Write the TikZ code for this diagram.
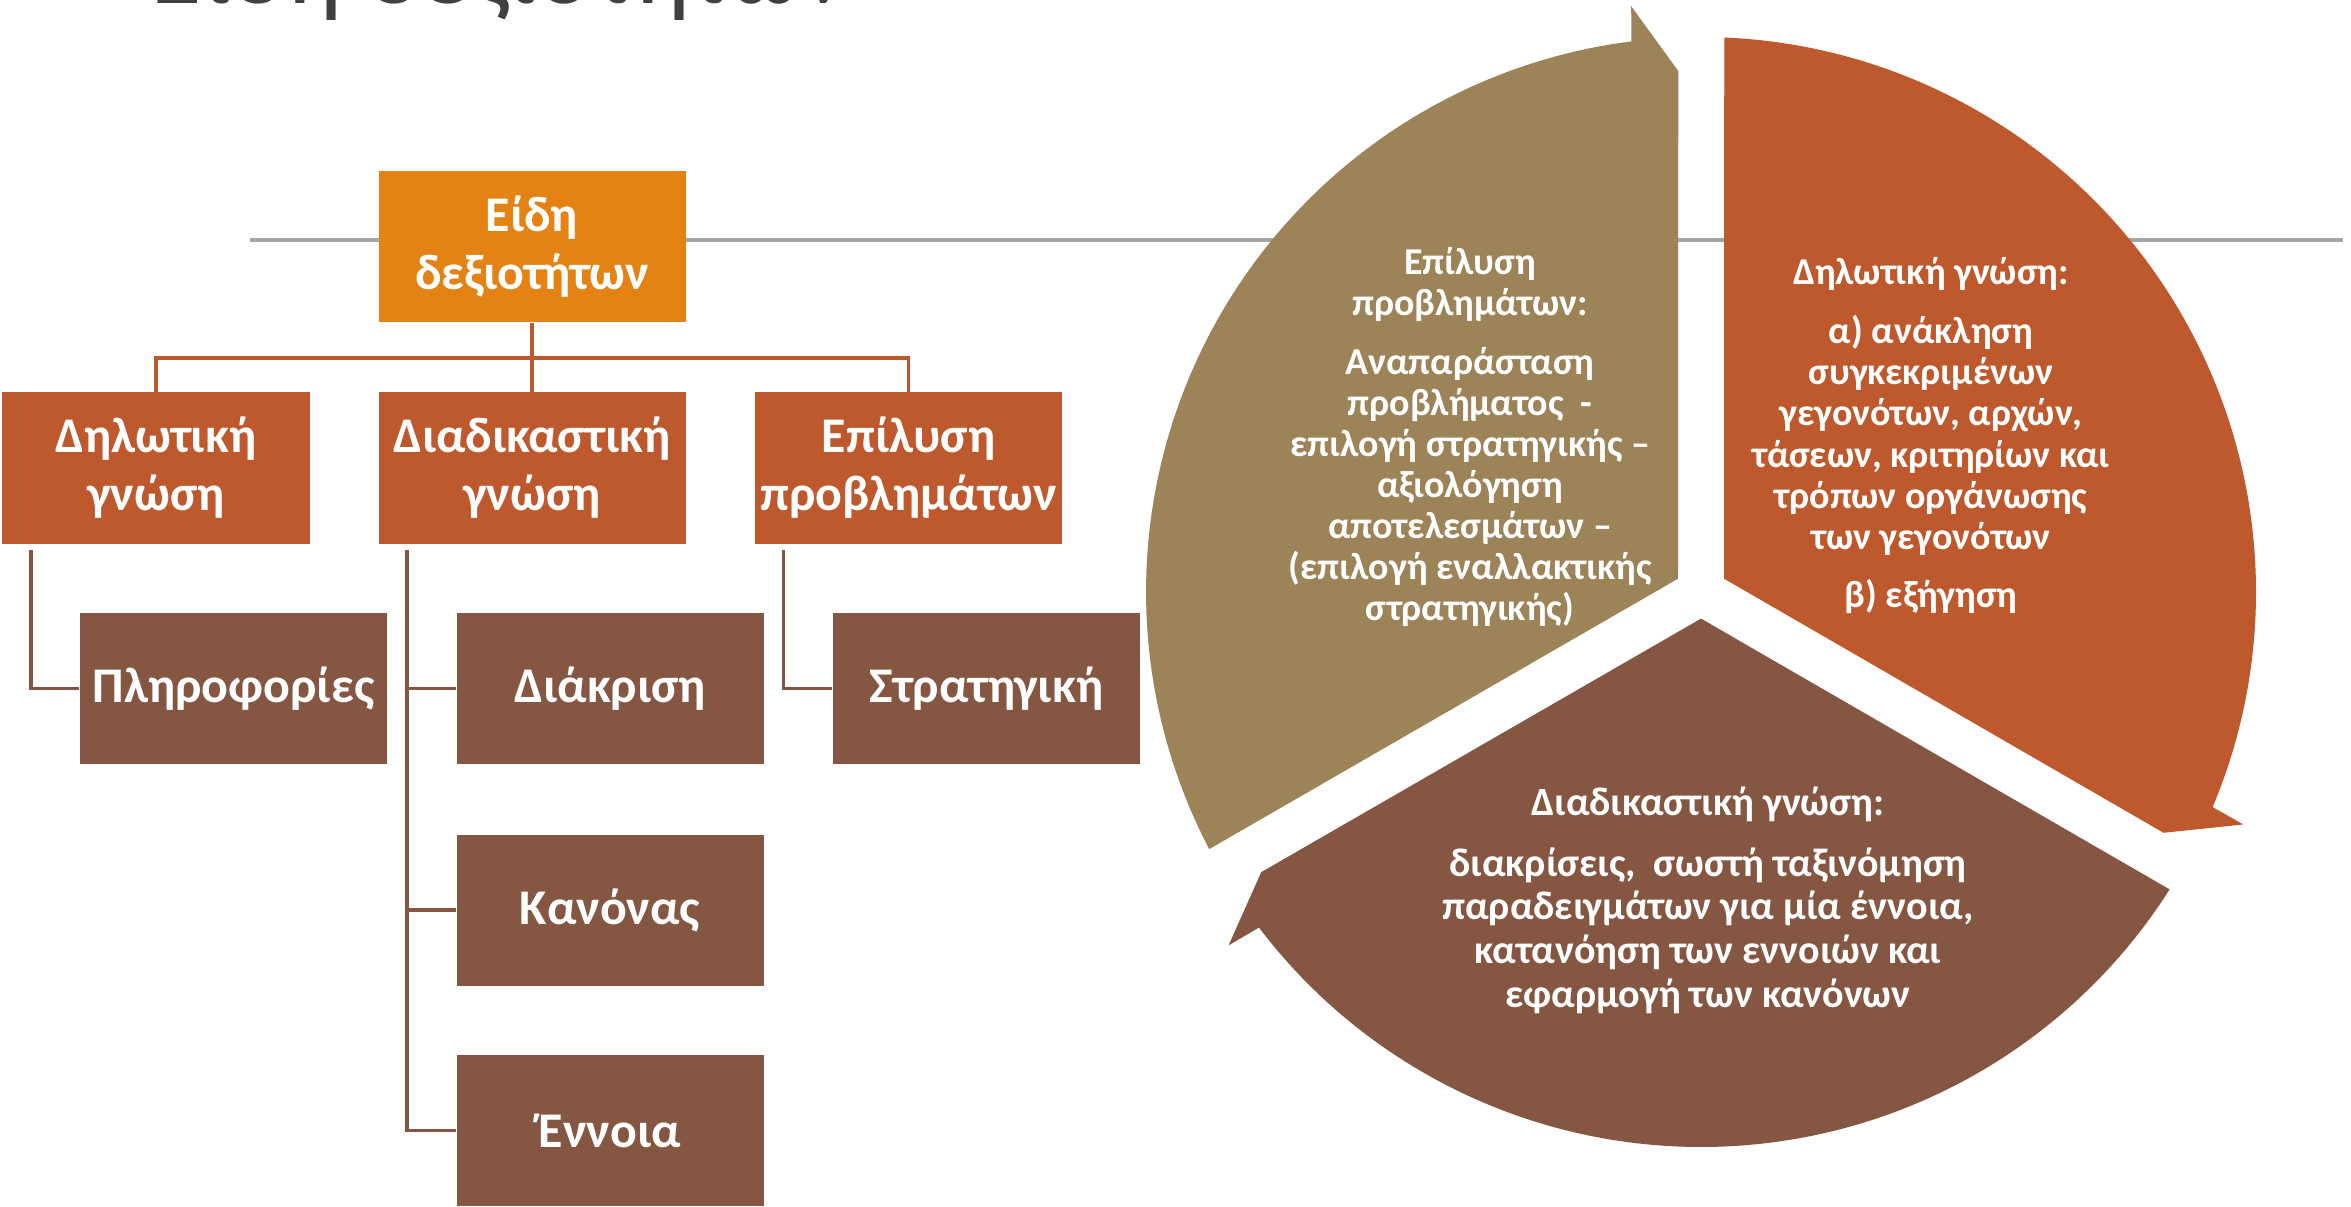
\documentclass[tikz,border=0pt]{standalone}
\usepackage{fontspec}
\setmainfont{Carlito}
\usepackage{tikz}
\usetikzlibrary{calc, positioning}
\definecolor{rootorange}{RGB}{228,130,19}
\definecolor{rust}{RGB}{190,89,45}
\definecolor{bark}{RGB}{133,86,65}
\definecolor{sand}{RGB}{157,131,88}
\definecolor{titlegray}{RGB}{64,64,64}
\definecolor{rulegray}{RGB}{166,166,166}
\tikzset{
    box/.style={minimum width=3.07cm, minimum height=1.51cm, inner sep=0pt,
        text=white, align=center, font=\bfseries\fontsize{14.2}{16.5}\selectfont},
    link/.style={draw=rust, line width=1pt},
    sublink/.style={draw=bark, line width=1pt},
    segtext/.style={text=white, align=center, font=\bfseries\fontsize{10.8}{11.7}\selectfont}
}
\newcommand{\drawB}[5]{
    \node[box, fill=#4] (#3) at (#1, #2) {#5};
}
\newcommand{\drawS}[2]{
    \begin{scope}[shift={(17.01,6.14)}, rotate=#1]
        \fill[#2] (150:0.266) -- (92.5:5.215) -- (96.8:5.90) -- (97.2:5.55)
            arc[start angle=97.2, end angle=207.6, radius=5.55] -- cycle;
    \end{scope}
}
\newcommand{\drawC}[2]{
    \draw[sublink] ([xshift=0.29cm, yshift=-0.06cm]#1.south west) |- (#2.west);
}

\begin{document}
\begin{tikzpicture}
    \useasboundingbox (0,0) rectangle (23.51,12.06);
    % Title and rule
    \node[anchor=base west, inner sep=0pt, text=titlegray, font=\fontsize{30}{36}\selectfont] (title) at (1.5,12.02) {Είδη δεξιοτήτων};
    \coordinate (ruleL) at (2.50,9.66);
    \coordinate (ruleR) at (23.43,9.66);
    \draw[rulegray, line width=1pt] (ruleL) -- (ruleR);
    % Tree
    \drawB{5.32}{9.59}{root}{rootorange}{Είδη\\δεξιοτήτων}
    \drawB{1.56}{7.38}{dil}{rust}{Δηλωτική\\γνώση}
    \drawB{5.32}{7.38}{diad}{rust}{Διαδικαστική\\γνώση}
    \drawB{9.085}{7.38}{epil}{rust}{Επίλυση\\προβλημάτων}
    \drawB{2.335}{5.175}{plir}{bark}{Πληροφορίες}
    \drawB{6.10}{5.175}{diakr}{bark}{Διάκριση}
    \drawB{6.10}{2.96}{kan}{bark}{Κανόνας}
    \drawB{6.10}{0.755}{enn}{bark}{Έννοια}
    \drawB{9.865}{5.175}{strat}{bark}{Στρατηγική}
    % Links
    \draw[link] (root.south) -- ++(0,-0.35) -| (dil.north);
    \draw[link] (root.south) -- (diad.north);
    \draw[link] (root.south) -- ++(0,-0.35) -| (epil.north);
    \drawC{dil}{plir}
    \drawC{diad}{diakr}
    \drawC{diad}{kan}
    \drawC{diad}{enn}
    \drawC{epil}{strat}
    % Cycle
    \drawS{0}{sand}
    \drawS{-120}{rust}
    \drawS{-240}{bark}
    \node[segtext] (solve) at (14.70,7.69) {Επίλυση\\προβλημάτων:\\[5pt]Αναπαράσταση\\προβλήματος~~-\\επιλογή στρατηγικής --\\αξιολόγηση\\αποτελεσμάτων --\\(επιλογή εναλλακτικής\\στρατηγικής)};
    \node[segtext] (decl) at (19.31,7.70) {Δηλωτική γνώση:\\[5pt]α) ανάκληση\\συγκεκριμένων\\γεγονότων, αρχών,\\τάσεων, κριτηρίων και\\τρόπων οργάνωσης\\των γεγονότων\\[5pt]β) εξήγηση};
    \node[segtext, font=\bfseries\fontsize{11.4}{12.4}\selectfont] (proc) at (17.08,3.06) {Διαδικαστική γνώση:\\[5pt]διακρίσεις,~~σωστή ταξινόμηση\\παραδειγμάτων για μία έννοια,\\κατανόηση των εννοιών και\\εφαρμογή των κανόνων};
\end{tikzpicture}
\end{document}
